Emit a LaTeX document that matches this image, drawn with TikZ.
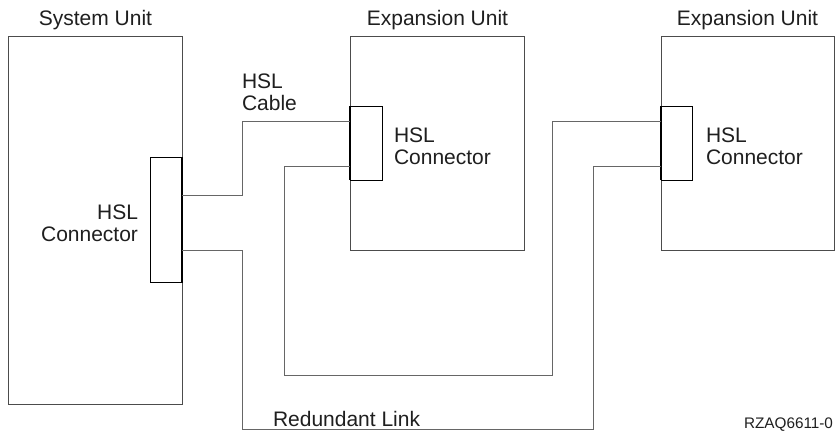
\documentclass[tikz,border=0pt]{standalone}
\usepackage{fontspec}
\setmainfont{Liberation Sans}
\begin{document}
\begin{tikzpicture}[x=1pt,y=-1pt,
  unitbox/.style={draw=black!70,line width=0.9pt,inner sep=0pt,outer sep=0pt,anchor=north west},
  connbox/.style={draw=black,line width=0.9pt,inner sep=0pt,outer sep=0pt,anchor=north west},
  cable/.style={draw=black!60,line width=0.9pt},
  lbl/.style={inner sep=0pt,outer sep=0pt,font=\fontsize{21}{22}\selectfont,text=black!88},
  small/.style={inner sep=0pt,outer sep=0pt,font=\fontsize{15.3}{17}\selectfont,text=black!88}]
\useasboundingbox[fill=white] (0,0) rectangle (836,436);
% units
\node[unitbox,minimum width=174pt,minimum height=368pt] (su) at (8,36) {};
\node[unitbox,minimum width=174pt,minimum height=214pt] (e1) at (350,36) {};
\node[unitbox,minimum width=173pt,minimum height=214pt] (e2) at (661,36) {};
% connectors
\node[connbox,minimum width=32pt,minimum height=125pt] (sc) at (150,157) {};
\node[connbox,minimum width=32pt,minimum height=74pt] (c1) at (350,106) {};
\node[connbox,minimum width=31pt,minimum height=74pt] (c2) at (661,106) {};
\draw[black,line width=1.6pt] (sc.north east) -- (sc.south east);
\draw[black,line width=1.6pt] (c1.north west) -- (c1.south west);
\draw[black,line width=1.6pt] (c2.north west) -- (c2.south west);
% ports
\coordinate (sa) at (182,195);
\coordinate (sb) at (182,250);
\coordinate (c1a) at (350,121);
\coordinate (c1b) at (350,166);
\coordinate (c2a) at (661,121);
\coordinate (c2b) at (661,166);
% cables
\draw[cable] (sa) -- (242,195) -- (242,121) -- (c1a);
\draw[cable] (c1b) -- (284,166) -- (284,375) -- (552,375) -- (552,121) -- (c2a);
\draw[cable] (sb) -- (242,250) -- (242,429) -- (593,429) -- (593,166) -- (c2b);
% labels
\node[lbl,anchor=base] (tsu) at (95.5,26) {System Unit};
\node[lbl,anchor=base] (te1) at (437.5,26) {Expansion Unit};
\node[lbl,anchor=base] (te2) at (747.5,26) {Expansion Unit};
\node[lbl,anchor=north west,align=left] (tcable) at (242,74) {HSL\\Cable};
\node[lbl,anchor=north west,align=left] (tc1) at (394,128) {HSL\\Connector};
\node[lbl,anchor=north west,align=left] (tc2) at (706,128) {HSL\\Connector};
\node[lbl,anchor=north east,align=right] (tsc) at (138,205) {HSL\\Connector};
\node[lbl,anchor=base west] (tred) at (273,426) {Redundant Link};
\node[small,anchor=base east] (tid) at (833,428) {RZAQ6611-0};
\end{tikzpicture}
\end{document}
